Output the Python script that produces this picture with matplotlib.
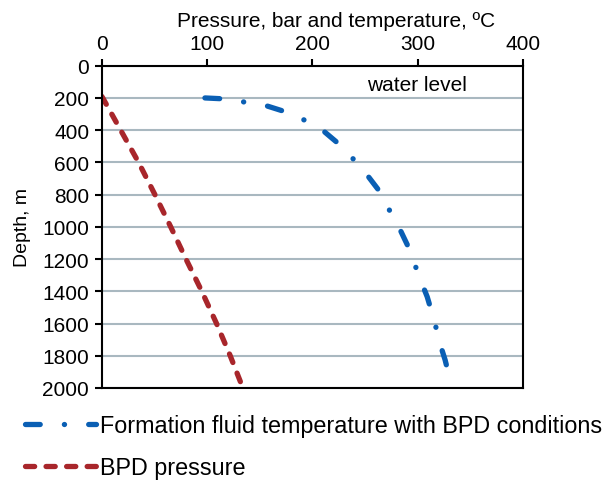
import matplotlib.pyplot as plt
import numpy as np

plt.rcParams['font.family'] = ['Liberation Sans', 'DejaVu Sans']
plt.rcParams['lines.scale_dashes'] = False

# formation fluid temperature (BPD conditions), degC vs depth, m
temp_depth = [200, 206, 226, 250, 285, 339, 402, 474, 573, 670, 773, 883, 1000,
              1110, 1230, 1352, 1434, 1589, 1723, 1826, 1957]
temp_values = [98, 117, 136, 157, 174, 193, 210, 223, 238, 251, 263, 272, 282,
               290, 297, 304, 309, 316, 321, 326, 331]

# BPD pressure, bar vs depth, m
pres_depth = [190, 200, 400, 600, 800, 1000, 1200, 1400, 1600, 1800, 2000]
pres_values = [0, 1, 18, 35, 50.5, 65.5, 80, 95, 109, 122, 134]

blue = '#0a5fb4'
red = '#a8262b'

fig, ax = plt.subplots(figsize=(6.04, 4.81), dpi=100)
fig.subplots_adjust(left=0.1684, right=0.866, top=0.8613, bottom=0.1913)

ax.plot(temp_values, temp_depth, color=blue, lw=3.8, solid_capstyle='round',
        dash_capstyle='round', dashes=(10.6, 17.4, 0.1, 17.4),
        label='Formation fluid temperature with BPD conditions')
ax.plot(pres_values, pres_depth, color=red, lw=3.8, dash_capstyle='round',
        dashes=(6.6, 8.2), label='BPD pressure')

ax.set_xlim(0, 400)
ax.set_ylim(2000, 0)
ax.set_xticks(np.arange(0, 401, 100))
ax.set_yticks(np.arange(0, 2001, 200))
ax.xaxis.tick_top()
ax.xaxis.set_label_position('top')
ax.set_xlabel('Pressure, bar and temperature, ºC', fontsize=15, labelpad=6)
ax.xaxis.label.set_x(0.556)
ax.set_ylabel('Depth, m', fontsize=14, labelpad=8)
ax.tick_params(labelsize=15, direction='out', length=5, width=1.5, pad=4)
ax.grid(axis='y', color='#a9b8c0', lw=1.5)
ax.set_axisbelow(True)
for s in ax.spines.values():
    s.set_linewidth(1.5)

ax.text(252, 115, 'water level', fontsize=15, va='center')

fig.legend(loc='upper left', bbox_to_anchor=(25 / 604, 1 - 415 / 481),
           frameon=False, fontsize=16.8, handlelength=3.05, handletextpad=0.17,
           borderpad=0, borderaxespad=0, labelspacing=0.83)

fig.savefig('out.png', dpi=100)
